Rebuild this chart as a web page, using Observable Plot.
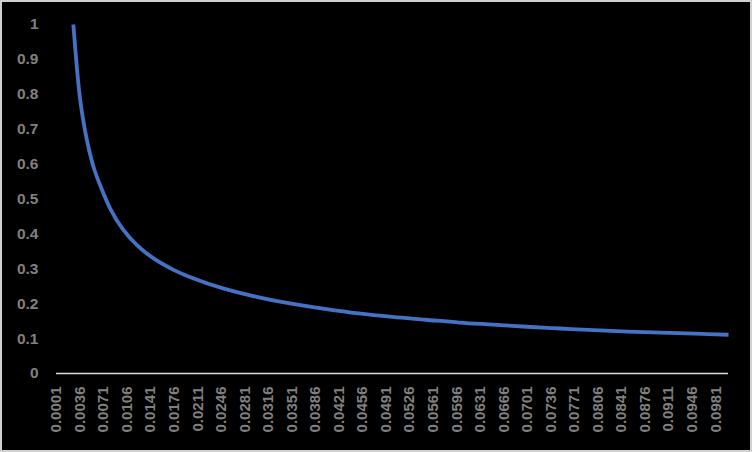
<!DOCTYPE html>
<html>
<head>
<meta charset="utf-8">
<script src="https://cdn.jsdelivr.net/npm/d3@7"></script>
<script src="https://cdn.jsdelivr.net/npm/@observablehq/plot@0.6"></script>
<style>
  html, body { margin: 0; padding: 0; background: #000; }
  #chart svg { display: block; outline: 2px solid #d0d0d0; outline-offset: -2px; }
</style>
</head>
<body>
<div id="chart"></div>
<script>
const xValues = [0.0026, 0.0031, 0.0036, 0.0042, 0.0049, 0.0057, 0.0066, 0.0081, 0.0099, 0.0121, 0.0146, 0.0175, 0.0200, 0.0250, 0.0300, 0.0350, 0.0400, 0.0450, 0.0500, 0.0550, 0.0600, 0.0650, 0.0700, 0.0750, 0.0800, 0.0850, 0.0900, 0.0950, 0.1000];
const yValues = [1.000, 0.883, 0.787, 0.711, 0.644, 0.586, 0.539, 0.472, 0.415, 0.367, 0.329, 0.297, 0.276, 0.243, 0.219, 0.200, 0.185, 0.172, 0.162, 0.154, 0.146, 0.140, 0.134, 0.129, 0.124, 0.120, 0.117, 0.114, 0.111];
// Category tick labels on the x axis
const xTickLabels = ["0.0001","0.0036","0.0071","0.0106","0.0141","0.0176","0.0211","0.0246","0.0281","0.0316","0.0351","0.0386","0.0421","0.0456","0.0491","0.0526","0.0561","0.0596","0.0631","0.0666","0.0701","0.0736","0.0771","0.0806","0.0841","0.0876","0.0911","0.0946","0.0981"];
const yTicks = [0, 0.1, 0.2, 0.3, 0.4, 0.5, 0.6, 0.7, 0.8, 0.9, 1];

const data = xValues.map((x, i) => ({x, y: yValues[i]}));
const xTicks = xTickLabels.map(Number);
const xLabelOf = new Map(xTicks.map((v, i) => [v, xTickLabels[i]]));

const chart = Plot.plot({
  width: 752,
  height: 452,
  marginTop: 24,
  marginBottom: 79,
  marginLeft: 56,
  marginRight: 24,
  style: { background: "#000", color: "#808080", fontFamily: "'Liberation Sans', Arial, sans-serif", fontSize: "15px" },
  x: { domain: [0.0001, 0.1], label: null },
  y: { domain: [0, 1], label: null },
  marks: [
    Plot.axisY({ ticks: yTicks, tickFormat: d => String(d), tickSize: 0, tickPadding: 18, fill: "#808080", fontSize: 15.5, fontWeight: "bold", label: null }),
    Plot.axisX({ ticks: xTicks, tickFormat: d => xLabelOf.get(d), tickSize: 0, tickPadding: 13, tickRotate: -90, fill: "#808080", fontSize: 15, fontWeight: "bold", label: null }),
    Plot.ruleY([0], { stroke: "#d9d9d9", strokeWidth: 1.6 }),
    Plot.line(data, { x: "x", y: "y", stroke: "#4472C4", strokeWidth: 3.8, curve: "catmull-rom", strokeLinecap: "butt" })
  ]
});
document.getElementById("chart").appendChild(chart);
</script>
</body>
</html>
